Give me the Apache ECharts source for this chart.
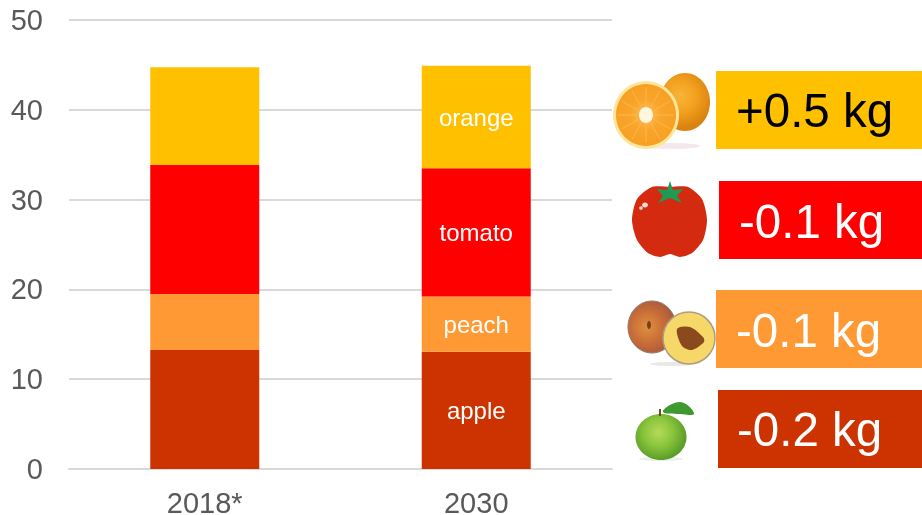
<!DOCTYPE html>
<html>
<head>
<meta charset="utf-8">
<style>
html, body { margin: 0; padding: 0; background: #fff; }
#chart { width: 922px; height: 515px; }
</style>
<script src="https://cdn.jsdelivr.net/npm/echarts@6/dist/echarts.min.js"></script>
</head>
<body>
<div id="chart"></div>
<script>
const years = ['2018*', '2030'];
const apple = [13.25, 13.05];
const peach = [6.25, 6.15];
const tomato = [14.35, 14.3];
const orange = [10.9, 11.4];
const changes = ['+0.5 kg', '-0.1 kg', '-0.1 kg', '-0.2 kg'];

const FONT = '"Liberation Sans", Arial, sans-serif';
const GREY = '#595959';
const LINE = '#D9D9D9';

const myChart = echarts.init(document.getElementById('chart'), null, { renderer: 'canvas' });

// only the 2030 column carries the fruit name
function barSeries(name, values, color) {
  return {
    type: 'bar',
    name: name,
    stack: 'total',
    barWidth: 109,
    itemStyle: { color: color },
    data: values.map((v, i) => ({
      value: v,
      label: {
        show: i === 1,
        position: 'inside',
        offset: [0, 2],
        formatter: name,
        color: '#fff',
        fontFamily: FONT,
        fontSize: 24
      }
    }))
  };
}

function radial(stops, x, y, r) {
  return {
    type: 'radial', x: x === undefined ? 0.5 : x, y: y === undefined ? 0.5 : y, r: r || 0.5,
    colorStops: stops.map((c, i) => ({ offset: i / (stops.length - 1), color: c }))
  };
}

function ell(cx, cy, rx, ry, fill, extra) {
  return { type: 'ellipse', shape: { cx, cy, rx, ry }, style: Object.assign({ fill: fill }, extra || {}) };
}

function poly(points, fill, smooth) {
  return { type: 'polygon', shape: { points: points, smooth: smooth || 0 }, style: { fill: fill } };
}

// the photos of the reference, redrawn as flat vector shapes
function orangeIcon() {
  const seg = [];
  for (let i = 0; i < 12; i++) {
    const a = i / 12 * Math.PI * 2;
    seg.push({
      type: 'line',
      shape: { x1: 646 + Math.cos(a) * 8, y1: 115 + Math.sin(a) * 8, x2: 646 + Math.cos(a) * 28, y2: 115 + Math.sin(a) * 28 },
      style: { stroke: '#FBB84E', lineWidth: 1 }
    });
  }
  return [
    ell(670, 146, 30, 3, '#F3E8EA'),
    ell(685, 102, 25, 29, radial(['#F9B43A', '#F2A01E', '#D9820E'], 0.4, 0.4, 0.65)),
    ell(646, 115, 33, 34, '#FBE69A'),
    ell(646, 115, 30, 31, radial(['#FFC25A', '#F9A52B', '#F7A024'])),
    ...seg,
    ell(646, 115, 7, 8, '#FFF6E0')
  ];
}

function tomatoIcon() {
  return [
    poly([[670, 187], [688, 187], [702, 199], [707, 220], [703, 240], [692, 253], [680, 257], [670, 254],
      [660, 257], [648, 253], [637, 240], [632, 220], [637, 199], [652, 187]], '#D42A10', 0.25),
    poly([[670, 181], [673, 190], [683, 189], [677, 196], [682, 203], [670, 198], [658, 203], [663, 196], [657, 189], [667, 190]], '#1E9A55'),
    ell(645, 205, 3, 2.5, '#F8D9CE'),
    ell(641, 208, 1.8, 1.8, '#F8D9CE')
  ];
}

function peachIcon() {
  return [
    ell(672, 364, 22, 2, '#E8E8E8'),
    ell(652, 327, 24, 26, radial(['#DD9040', '#CC7038', '#A8583C'], 0.4, 0.5, 0.6), { stroke: '#8C7A70', lineWidth: 1 }),
    ell(689, 338, 26, 26, '#F6D868', { stroke: '#B09A80', lineWidth: 1.5 }),
    poly([[677, 329], [690, 327], [703, 337], [704, 342], [692, 350], [682, 346]], '#8A4A1E', 0.3),
    ell(649, 325, 2, 4, '#7A3F18')
  ];
}

function appleIcon() {
  return [
    ell(661, 459, 22, 2, '#EDEDED'),
    ell(661, 437, 25.5, 23, radial(['#B6DA5A', '#8CC63E', '#5A9E28'], 0.45, 0.4, 0.6)),
    { type: 'line', shape: { x1: 660, y1: 416, x2: 660, y2: 409 }, style: { stroke: '#6B4A2A', lineWidth: 2 } },
    poly([[663, 412], [672, 404], [684, 403], [694, 414], [680, 414]], '#3E9A2E', 0.4)
  ];
}

const boxes = [
  { x: 716, y: 71, fill: '#FFC000', color: '#000', tx: 736, ty: 114 },
  { x: 719, y: 181, fill: '#FF0000', color: '#fff', tx: 739, ty: 225 },
  { x: 716, y: 290, fill: '#FF9933', color: '#fff', tx: 736, ty: 334 },
  { x: 718, y: 390, fill: '#CC3300', color: '#fff', tx: 737, ty: 433 }
];

const boxGraphics = [];
boxes.forEach((b, i) => {
  boxGraphics.push({ type: 'rect', shape: { x: b.x, y: b.y, width: 922 - b.x, height: 78 }, style: { fill: b.fill } });
  boxGraphics.push({
    type: 'text',
    x: b.tx,
    y: b.ty,
    style: { text: changes[i], fill: b.color, font: '47.5px ' + FONT, verticalAlign: 'middle', align: 'left' }
  });
});

const option = {
  animation: false,
  // v6 shrinks the grid to keep labels inside by default, the rect has to stay put here
  grid: { left: 69, right: 310, top: 20, bottom: 46, outerBoundsMode: 'none' },
  xAxis: {
    type: 'category',
    data: years,
    axisLine: { lineStyle: { color: LINE, width: 2 } },
    axisTick: { show: false },
    axisLabel: { color: GREY, fontFamily: FONT, fontSize: 29, margin: 21 }
  },
  yAxis: {
    type: 'value',
    min: 0,
    max: 50,
    interval: 10,
    axisLine: { show: false },
    axisTick: { show: false },
    // top-aligned with a short line box, sits the digits 2px lower than 'middle'
    axisLabel: { color: GREY, fontFamily: FONT, fontSize: 29, margin: 26, verticalAlign: 'top', lineHeight: 4 },
    splitLine: { lineStyle: { color: LINE, width: 2 } }
  },
  series: [
    barSeries('apple', apple, '#CC3300'),
    barSeries('peach', peach, '#FF9933'),
    barSeries('tomato', tomato, '#FF0000'),
    barSeries('orange', orange, '#FFC000')
  ],
  graphic: [{
    type: 'group',
    silent: true,
    children: [...orangeIcon(), ...tomatoIcon(), ...peachIcon(), ...appleIcon(), ...boxGraphics]
  }]
};

myChart.setOption(option);
</script>
</body>
</html>
